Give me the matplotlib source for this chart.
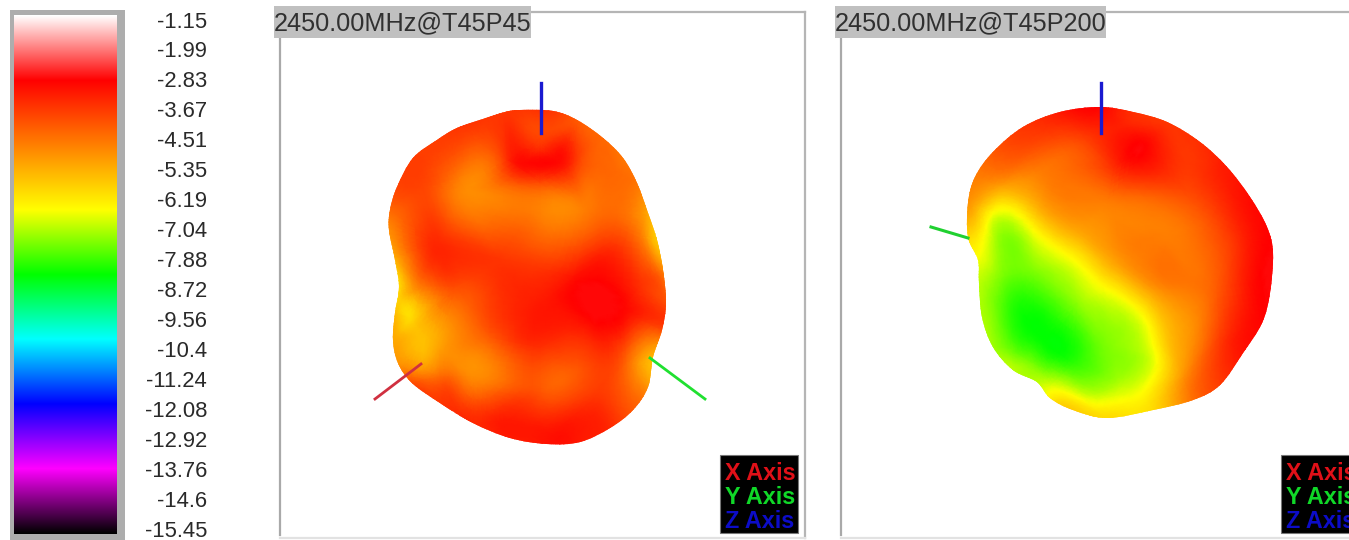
import numpy as np
import matplotlib.pyplot as plt
from matplotlib.colors import LinearSegmentedColormap
from matplotlib.patches import PathPatch, Rectangle
from matplotlib.path import Path
from matplotlib.tri import Triangulation, UniformTriRefiner

plt.rcParams['font.family'] = ['Liberation Sans', 'DejaVu Sans']

# scale of the colour bar
scale_labels = ['-1.15', '-1.99', '-2.83', '-3.67', '-4.51', '-5.35', '-6.19', '-7.04',
                '-7.88', '-8.72', '-9.56', '-10.4', '-11.24', '-12.08', '-12.92', '-13.76',
                '-14.6', '-15.45']
scale_top = -1.15
scale_bottom = -15.45
scale_colors = ['#000000', '#ff00ff', '#0000ff', '#00ffff', '#00ff00',
                '#ffff00', '#ff8000', '#ff0000', '#ffffff']
scale_stops = [0, 1/8, 2/8, 3/8, 4/8, 5/8, 6/8, 7/8, 1]
peak_db = -2.9

# left pattern: outline (x, y, dB)
left_x = [520, 553, 577, 603, 623, 637, 648, 657, 663, 666, 662, 653, 648, 633, 610, 580, 547,
          510, 473, 440, 412, 398, 393, 395, 399, 395, 389, 390, 397, 413, 437, 457, 483, 505]
left_y = [110, 111, 120, 138, 158, 183, 213, 240, 270, 303, 330, 357, 387, 410, 428, 442, 444,
          438, 423, 403, 383, 363, 340, 313, 287, 260, 230, 210, 187, 158, 140, 128, 119, 112]
left_db = [-3.7, -3.7, -4.2, -4.4, -4.6, -4.6, -5.3, -5.8, -4.8, -4.0, -4.0, -5.5, -5.0, -4.2, -3.5, -3.3, -3.2,
           -3.3, -3.5, -3.7, -4.0, -5.0, -5.3, -5.6, -6.0, -5.4, -4.9, -4.4, -3.9, -3.8, -3.8, -3.7, -3.7, -3.7]
# left pattern: inside
left_in_x = [540, 507, 573, 540, 540, 467, 540, 457, 590, 613, 423, 440, 507, 573, 590, 623, 540,
             490, 457, 423, 413, 403, 440, 490, 540, 590, 627, 647, 473, 440, 423, 540, 590, 507,
             557, 457, 410, 640, 653, 660, 640, 520, 560, 540, 540, 425, 403]
left_in_y = [163, 160, 163, 137, 183, 193, 217, 177, 213, 170, 187, 243, 260, 277, 320, 310, 303,
             297, 287, 287, 320, 297, 347, 337, 347, 363, 363, 370, 377, 377, 370, 393, 403, 420,
             430, 410, 370, 237, 237, 270, 287, 163, 163, 150, 175, 335, 310]
left_in_db = [-3.0, -3.6, -3.6, -3.9, -4.0, -4.9, -4.7, -4.6, -4.6, -4.4, -3.9, -3.5, -3.7, -3.2, -3.0, -3.0, -3.3,
              -3.8, -4.0, -4.6, -5.9, -5.7, -5.2, -4.2, -3.6, -3.9, -4.4, -5.4, -4.9, -4.4, -5.0, -4.1, -3.6, -3.3,
              -3.2, -3.6, -4.8, -4.6, -5.6, -4.6, -3.6, -3.1, -3.1, -3.5, -3.5, -5.6, -6.0]

# right pattern: outline
right_x = [1100, 1133, 1167, 1200, 1227, 1250, 1267, 1273, 1270, 1262, 1243, 1220, 1193, 1153, 1107,
           1073, 1050, 1037, 1013, 993, 982, 979, 978, 968, 968, 975, 993, 1023, 1060]
right_y = [107, 112, 122, 142, 167, 197, 227, 253, 293, 323, 353, 385, 400, 410, 418,
           410, 398, 382, 370, 347, 317, 283, 260, 237, 203, 177, 152, 127, 112]
right_db = [-3.0, -3.6, -3.7, -3.6, -3.3, -3.1, -3.0, -2.9, -2.9, -3.0, -3.2, -3.8, -4.5, -6.0, -6.0,
            -5.8, -6.3, -7.0, -7.0, -7.2, -7.1, -7.0, -6.6, -6.0, -5.0, -4.7, -4.2, -3.7, -3.3]
# right pattern: inside
right_in_x = [993, 1033, 1073, 1107, 1143, 1157, 1140, 1000, 1040, 1073, 1113, 1153, 1187, 1183, 1050, 1107, 1167,
              1217, 1220, 1147, 1113, 1183, 1083, 1033, 1133, 1193, 1233, 1253, 1033, 1050, 1007, 1000, 993, 1033,
              1077, 1107, 1073, 1117, 1083, 1033, 1013, 1143, 983, 1050, 1165, 1152]
right_in_y = [213, 230, 260, 290, 317, 363, 390, 187, 203, 230, 260, 290, 337, 377, 170, 203, 237,
              287, 337, 148, 167, 157, 137, 147, 127, 203, 230, 283, 330, 347, 310, 277, 237, 270,
              303, 343, 363, 387, 400, 363, 350, 353, 227, 385, 340, 340]
right_in_db = [-6.5, -6.5, -6.5, -6.5, -6.5, -6.5, -6.6, -5.2, -5.2, -5.3, -5.2, -5.1, -5.1, -5.0, -4.6, -4.7, -4.7,
               -4.2, -3.8, -3.0, -3.6, -3.7, -3.8, -4.0, -3.4, -4.1, -3.6, -3.1, -8.3, -8.3, -7.9, -7.4, -7.0, -7.4,
               -7.3, -7.4, -8.0, -7.0, -6.5, -7.5, -7.6, -7.0, -6.3, -6.8, -5.8, -6.5]

legend_names = ['X Axis', 'Y Axis', 'Z Axis']
legend_colors = ['#e01018', '#10d828', '#0c0cc8']

cmap = LinearSegmentedColormap.from_list('scale', list(zip(scale_stops, scale_colors)), N=512)


def smooth_outline(x, y):
    # closed catmull-rom through the outline points
    pts = np.column_stack([x, y]).astype(float)
    n = len(pts)
    verts = [pts[0]]
    codes = [Path.MOVETO]
    for i in range(n):
        p0, p1, p2, p3 = pts[i-1], pts[i], pts[(i+1) % n], pts[(i+2) % n]
        verts += [p1 + (p2-p0)/6, p2 - (p3-p1)/6, p2]
        codes += [Path.CURVE4]*3
    return Path(verts, codes)


def draw_pattern(ax, x, y, db, in_x, in_y, in_db):
    x = np.array(x, float)
    y = np.array(y, float)
    cx, cy = x.mean(), y.mean()
    # outer ring so the mesh reaches past the smoothed edge
    all_x = np.concatenate([x, in_x, cx + (x-cx)*1.08])
    all_y = np.concatenate([y, in_y, cy + (y-cy)*1.08])
    all_db = np.concatenate([db, in_db, db])
    tri = Triangulation(all_x, all_y)
    fine_tri, fine_db = UniformTriRefiner(tri).refine_field(all_db, subdiv=3)
    # the cubic refinement overshoots a little past the hottest readings
    fine_db = np.minimum(fine_db, peak_db)
    mesh = ax.tripcolor(fine_tri, fine_db, shading='gouraud', cmap=cmap,
                        vmin=scale_bottom, vmax=scale_top, zorder=2)
    patch = PathPatch(smooth_outline(x, y), fc='none', ec='none', transform=ax.transData)
    ax.add_patch(patch)
    mesh.set_clip_path(patch)


def draw_panel(ax, left, right, title, title_w):
    ax.plot([left, left], [12, 535], color='#a9a9a9', lw=1.6, zorder=1)
    ax.plot([left, right], [12, 12], color='#b5b5b5', lw=1.6, zorder=1)
    ax.plot([right, right], [12, 538], color='#b5b5b5', lw=1.6, zorder=1)
    ax.plot([left, right], [538, 538], color='#e2e2e2', lw=1.6, zorder=1)
    ax.add_patch(Rectangle((left-6, 6), title_w, 32, fc='#c0c0c0', ec='none', zorder=3))
    ax.text(left-6, 23, title, fontsize=18.2, color='#303030', va='center', ha='left', zorder=4)
    ax.add_patch(Rectangle((left+440, 455), 78, 78, fc='black', ec='#777777', lw=0.8, zorder=3, clip_on=True))
    for i, name in enumerate(legend_names):
        ax.text(left+445, 473 + i*24, name, fontsize=16.8, fontweight='bold', color=legend_colors[i],
                va='center', ha='left', zorder=4, clip_on=True)


fig = plt.figure(figsize=(13.49, 5.40), dpi=100)
ax = fig.add_axes([0, 0, 1, 1])
ax.set_xlim(0, 1349)
ax.set_ylim(540, 0)
ax.axis('off')

# colour bar
ax.add_patch(Rectangle((10, 10), 115, 530, fc='#adadad', ec='none', zorder=1))
grad = np.linspace(scale_top, scale_bottom, 512).reshape(-1, 1)
ax.imshow(grad, cmap=cmap, vmin=scale_bottom, vmax=scale_top, aspect='auto',
          extent=[14, 117, 534, 15], zorder=2)
ax.set_xlim(0, 1349)
ax.set_ylim(540, 0)
for i, lab in enumerate(scale_labels):
    ax.text(207, 22 + i*29.95, lab, fontsize=15.8, color='#2a2a2a', va='center', ha='right')

draw_panel(ax, 280, 805, '2450.00MHz@T45P45', 257)
draw_panel(ax, 841, 1366, '2450.00MHz@T45P200', 271)

draw_pattern(ax, left_x, left_y, left_db, left_in_x, left_in_y, left_in_db)
draw_pattern(ax, right_x, right_y, right_db, right_in_x, right_in_y, right_in_db)

# axis stubs
ax.plot([541, 541], [83, 133], color='#1a1ad0', lw=2.4, zorder=5)
ax.plot([375, 421], [399, 364], color='#d03040', lw=2, zorder=5)
ax.plot([650, 705], [358, 399], color='#20e030', lw=2, zorder=5)
ax.plot([1101, 1101], [83, 133], color='#1a1ad0', lw=2.4, zorder=5)
ax.plot([931, 968], [227, 238], color='#20d030', lw=2.2, zorder=5)

fig.savefig('out.png', dpi=100)
